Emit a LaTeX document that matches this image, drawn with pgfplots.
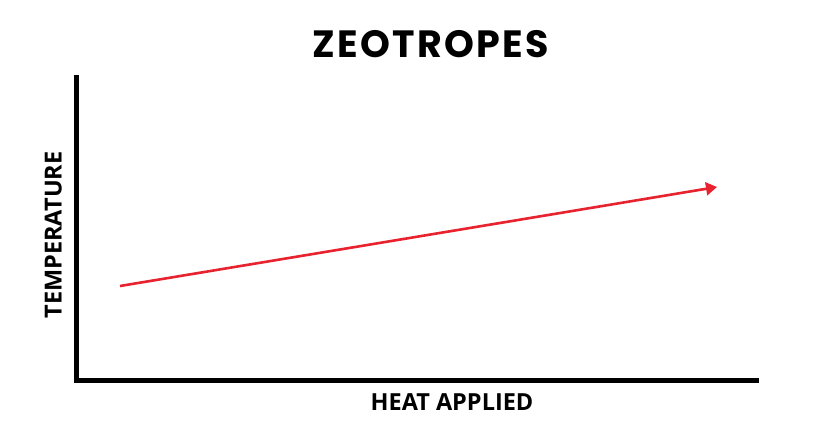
\documentclass[border=0pt]{standalone}
\usepackage{pgfplots}
\pgfplotsset{compat=1.18}
\usepackage{fontspec}
\usetikzlibrary{arrows.meta}
\newfontfamily\titlefont{Poppins}[LetterSpace=6]
\newfontfamily\labelfont{Open Sans}
\definecolor{arrowred}{HTML}{E8232F}
\begin{document}
\begin{tikzpicture}[x=1pt,y=1pt]
\useasboundingbox (0,0) rectangle (838,444);
\begin{axis}[
  at={(76pt,63pt)}, anchor=south west,
  scale only axis, width=680pt, height=303pt,
  xmin=0, xmax=680, ymin=0, ymax=303,
  axis x line=bottom, axis y line=left,
  axis line style={-, line width=5pt, line cap=rect, black},
  xtick=\empty, ytick=\empty,
  clip=false,
]
\addplot[arrowred, line width=2.6pt, -{Triangle[length=11pt,width=13pt]}] coordinates {(44,95) (641,194)};
\end{axis}
\node[font=\titlefont\bfseries\fontsize{38}{40}\selectfont, anchor=base] at (431,444-58) {ZEOTROPES};
\node[font=\labelfont\bfseries\fontsize{23.5}{25}\selectfont, anchor=base] at (452,444-411) {HEAT APPLIED};
\node[font=\labelfont\bfseries\fontsize{23.5}{25}\selectfont, anchor=base, rotate=90] at (61.5,444-235) {TEMPERATURE};
\end{tikzpicture}
\end{document}
